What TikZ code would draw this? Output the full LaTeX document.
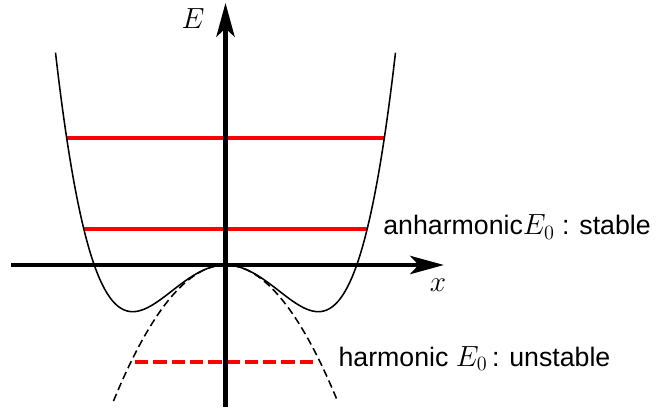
\documentclass[tikz,border=0pt]{standalone}
\usepackage{fontspec}
\setmainfont{Liberation Sans}
\usetikzlibrary{arrows.meta}
\colorlet{lvlc}{red}
\colorlet{rule}{black}
\newcommand{\mlbl}[1]{{\fontsize{22}{26}\selectfont$#1$}}
\tikzset{
  axis/.style    ={-{Stealth[length=24pt, width=13pt, inset=6pt]},
                   rule, line width=3pt},
  well/.style    ={rule, line width=1.1pt, smooth, samples=120},
  harm/.style    ={well, dash pattern=on 5.5pt off 3pt},
  lvl/.style     ={lvlc, line width=2.8pt},
  lvl-harm/.style={lvl, dash pattern=on 9.5pt off 3.5pt},
  lbl/.style     ={font=\fontsize{19}{22}\selectfont, inner sep=0pt},
}

\begin{document}
\begin{tikzpicture}
\useasboundingbox (-5.6375,-3.6) rectangle (10.8375,6.625);

% energy levels
\draw[lvl] (-3.97, 3.167) coordinate (L1a) -- (3.97, 3.167) coordinate (L1b);
\draw[lvl] (-3.54, 0.892) coordinate (L2a) -- (3.54, 0.892) coordinate (L2b);
\draw[lvl-harm] (-2.26, -2.417) coordinate (L0a) -- (2.26, -2.417) coordinate (L0b);

% anharmonic well and its harmonic part
\draw[well] plot[domain=-4.25:4.25]
  (\x, {0.04029*((\x)*(\x))*((\x)*(\x)) - 0.4337*(\x)*(\x)});
\draw[harm] plot[domain=-2.8:2.8] (\x, {-0.4337*(\x)*(\x)});

% axes
\coordinate (xmin) at (-5.36, 0);
\coordinate (xmax) at ( 5.46, 0);
\coordinate (ymin) at (0, -3.55);
\coordinate (ymax) at (0,  6.55);
\draw[axis] (xmin) -- (xmax);
\draw[axis] (ymin) -- (ymax);
\node[lbl] (xlab) at (5.31, -0.5) {\mlbl{x}};
\node[lbl] (Elab) at (-0.81, 6.17) {\mlbl{E}};

% labels
\node[lbl, anchor=base west] (anh) at (3.94, 0.75)
  {anharmonic\mlbl{E_0} : stable};
\node[lbl, anchor=base west] (har) at (2.82, -2.54)
  {harmonic \mlbl{E_0}\,: unstable};

\end{tikzpicture}
\end{document}
